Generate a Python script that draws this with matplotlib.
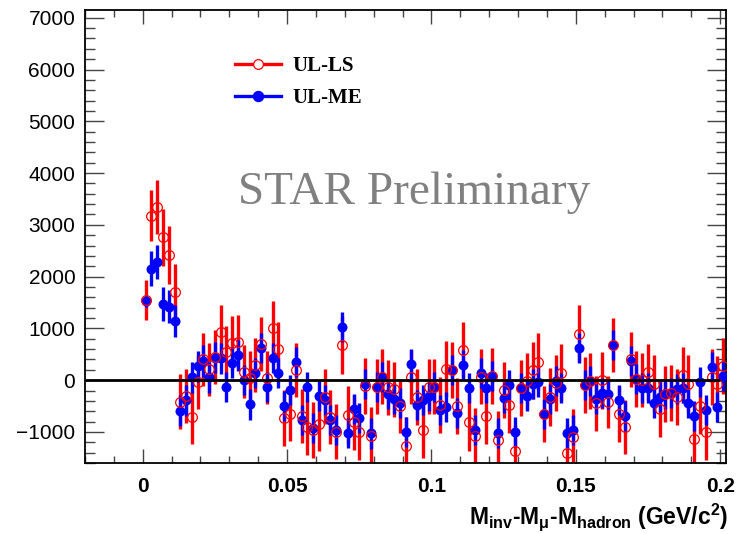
import numpy as np
import matplotlib
matplotlib.use("Agg")
import matplotlib.pyplot as plt
from matplotlib.lines import Line2D
from matplotlib.ticker import MultipleLocator

plt.rcParams['font.family'] = ['Liberation Sans', 'DejaVu Sans']
plt.rcParams['mathtext.fontset'] = 'custom'
plt.rcParams['mathtext.rm'] = 'Liberation Sans:bold'
plt.rcParams['mathtext.it'] = 'Liberation Sans:bold'
plt.rcParams['mathtext.bf'] = 'Liberation Sans:bold'

# bin centres, 2 MeV bins
mass = np.arange(101) * 0.002 + 0.001

# unlike-sign minus like-sign
ul_ls = [1550, 3180, 3340, 2760, 2410, 1710, -420, -310, -720, -45,
         400, 210, 450, 930, 550, 720, 740, 160, 45, 300,
         700, 45, 1000, 600, -730, -650, 200, -700, -900, -960,
         -840, -320, -710, -1000, 680, -680, -810, -1000, -120, -1070,
         -130, 70, -140, -180, -500, -1280, 65, -320, -960, -130,
         -130, -480, 210, 190, -500, 580, -810, -1080, 65, -700,
         80, -1150, -190, -480, -1360, -160, -10, 190, 360, -660,
         -320, -50, 140, -1410, -1100, 900, -100, -20, -450, 0,
         -420, 680, -650, -900, 400, 30, 0, 160, -65, -550,
         -270, -245, -320, 100, -65, -1140, -500, -1010, 65, -65,
         280]
ul_ls_err = [390, 495, 520, 550, 560, 540, 530, 520, 520, 510,
             520, 510, 520, 520, 500, 520, 520, 510, 510, 520,
             520, 510, 530, 520, 540, 530, 520, 520, 540, 540,
             530, 530, 520, 530, 560, 560, 530, 540, 540, 560,
             530, 540, 530, 530, 530, 560, 520, 540, 540, 530,
             530, 540, 540, 540, 540, 540, 560, 540, 530, 540,
             540, 560, 540, 540, 500, 540, 540, 550, 550, 540,
             560, 540, 550, 560, 550, 550, 540, 540, 540, 550,
             500, 530, 540, 520, 530, 540, 520, 540, 550, 540,
             540, 540, 540, 540, 550, 540, 540, 540, 540, 540,
             540]

# unlike-sign minus mixed-event
ul_me = [1520, 2150, 2290, 1470, 1420, 1140, -590, -390, 60, 270,
         370, 60, 430, 420, -130, 340, 480, 0, -470, 130,
         630, -130, 420, 140, -500, -190, 355, -775, -140, -930,
         -300, -380, -770, -960, 1030, -1020, -550, -740, -65, -1030,
         -140, 65, -270, -355, -450, -1000, 320, -480, -390, -310,
         -130, -570, -520, 190, -630, 290, -150, -970, 130, -160,
         80, -1020, -340, -100, -1000, -160, -310, -80, -30, -660,
         -355, -10, -160, -1030, -970, 630, -100, -20, -370, -245,
         -270, 680, -390, -690, 375, 30, -160, -160, -440, -320,
         -270, -245, -180, -160, -450, -690, -30, -570, 245, -520,
         85]
ul_me_err = [110, 340, 330, 320, 320, 310, 300, 300, 300, 300,
             300, 300, 300, 300, 290, 300, 300, 290, 290, 290,
             290, 290, 290, 290, 290, 290, 290, 290, 290, 290,
             290, 290, 290, 290, 290, 290, 290, 290, 290, 290,
             290, 290, 290, 290, 290, 290, 290, 290, 290, 290,
             290, 290, 290, 290, 290, 290, 290, 290, 290, 290,
             290, 290, 290, 290, 290, 290, 290, 290, 290, 290,
             290, 290, 290, 290, 290, 290, 290, 290, 290, 290,
             290, 290, 290, 290, 290, 290, 290, 290, 290, 290,
             290, 290, 290, 290, 290, 290, 290, 290, 290, 290,
             290]

fig = plt.figure(figsize=(7.36, 5.34), dpi=100)
ax = fig.add_axes([85 / 736, 71 / 534, 641 / 736, 453 / 534])

# error bars first, markers on top
ax.errorbar(mass, ul_ls, yerr=ul_ls_err, fmt='none', ecolor='#ff0000',
            elinewidth=2.4, capsize=0, zorder=2)
ax.errorbar(mass, ul_me, yerr=ul_me_err, fmt='none', ecolor='#0000ff',
            elinewidth=2.4, capsize=0, zorder=3)
ax.plot(mass, ul_me, 'o', color='#0000ff', ms=7.2, mew=0, zorder=4)
ax.plot(mass, ul_ls, 'o', mfc='none', mec='#ff0000', ms=7.0, mew=0.9, zorder=5)

ax.hlines(0, -0.02, 0.2, color='black', lw=2.0, zorder=6)

ax.set_xlim(-0.02, 0.202)
ax.set_ylim(-1600, 7150)

ax.xaxis.set_major_locator(MultipleLocator(0.05))
ax.xaxis.set_minor_locator(MultipleLocator(0.01))
ax.yaxis.set_major_locator(MultipleLocator(1000))
ax.yaxis.set_minor_locator(MultipleLocator(200))
ax.set_xticks([0, 0.05, 0.1, 0.15, 0.2])
ax.set_xticklabels(['0', '0.05', '0.1', '0.15', '0.2'], fontweight='bold')

ax.tick_params(axis='both', which='both', direction='in', top=True, right=True,
               width=1.0, color='#444444')
ax.tick_params(axis='x', which='major', length=10, labelsize=15, pad=10)
ax.tick_params(axis='x', which='minor', length=5)
ax.tick_params(axis='y', which='major', length=14, labelsize=15, pad=7)
ax.tick_params(axis='y', which='minor', length=7)
for s in ax.spines.values():
    s.set_linewidth(1.3)

fig.text(728 / 736, 1 - 524 / 534,
         r'M$_{\rm inv}$-M$_{\mu}$-M$_{\rm hadron}$ (GeV/c$^{2}$)',
         ha='right', va='baseline', fontsize=16.5, fontweight='bold')

ax.text(0.513, 0.597, 'STAR Preliminary', transform=ax.transAxes,
        family='Liberation Serif', fontsize=34, color='#808080',
        ha='center', va='center')

handles = [
    Line2D([], [], color='#ff0000', lw=2.4, marker='o', mfc='white',
           mec='#ff0000', ms=7.0, mew=0.9),
    Line2D([], [], color='#0000ff', lw=2.4, marker='o', mfc='#0000ff',
           mec='#0000ff', ms=7.2),
]
ax.legend(handles, ['UL-LS', 'UL-ME'], loc='upper left',
          bbox_to_anchor=(0.205, 0.94), frameon=False, handlelength=2.2,
          handletextpad=0.55, labelspacing=0.6,
          prop={'family': 'Liberation Serif', 'weight': 'bold', 'size': 15})

fig.savefig('out.png', dpi=100)
